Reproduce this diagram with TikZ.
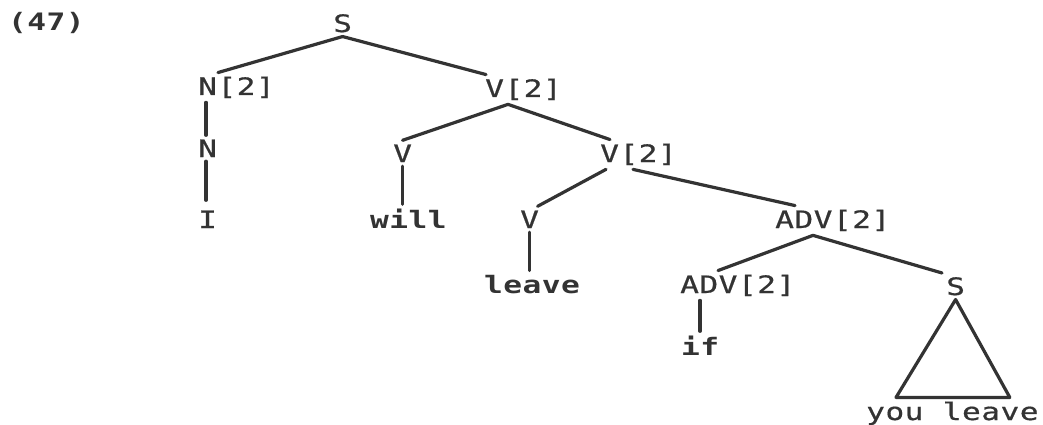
\documentclass[tikz,border=0pt]{standalone}
\usepackage{fontspec}
\usepackage{tikz}
\usetikzlibrary{positioning}
\newfontfamily\treefont[FakeStretch=1.3,LetterSpace=2,FakeBold=0.6]{DejaVu Sans Mono}
\newfontfamily\wordfont[FakeStretch=1.3,LetterSpace=2]{DejaVu Sans Mono}
\definecolor{inkgrey}{HTML}{333333}

\begin{document}
\begin{tikzpicture}[x=1pt, y=-1pt,
  cat/.style={anchor=base west, inner sep=4pt, text=inkgrey,
              font=\fontsize{24}{28}\selectfont\treefont},
  word/.style={cat, font=\fontsize{24}{28}\selectfont\wordfont\bfseries},
  branch/.style={draw=inkgrey, line width=3.2pt, line cap=round, line join=round},
]
\useasboundingbox (0,0) rectangle (1043,425);
\fill[white] (0,0) rectangle (1043,425);

%% Example number
\node[word] (ex) at (4,31) {(47)};

%% Category labels
\node[cat] (s)     at (329,32)  {S};
\node[cat] (n2)    at (194,95)  {N[2]};
\node[cat] (v2)    at (481,97)  {V[2]};
\node[cat] (n)     at (194,157) {N};
\node[cat] (v)     at (389,162) {V};
\node[cat] (v2b)   at (596,162) {V[2]};
\node[cat] (vb)    at (516,228) {V};
\node[cat] (adv2)  at (771,228) {ADV[2]};
\node[cat] (adv2b) at (676,293) {ADV[2]};
\node[cat] (sb)    at (942,295) {S};

%% Words
\node[cat]  (i)     at (194,228) {I};
\node[word] (will)  at (366,228) {will};
\node[word] (leave) at (480,293) {leave};
\node[word] (if)    at (677,355) {if};
\node[cat]  (yl)    at (862,420) {you leave};

%% Branches
\draw[branch] (s.south) -- ([xshift=24pt]n2.north west);
\draw[branch] (s.south) -- ([xshift=5pt]v2.north west);
\draw[branch] ([xshift=12pt]n2.south west) -- ([xshift=12pt]n.north west);
\draw[branch] ([xshift=12pt]n.south west) -- ([xshift=12pt,yshift=6pt]n.south west |- i.north);
\draw[branch] ([xshift=27pt]v2.south west) -- (v.north);
\draw[branch] ([xshift=27pt]v2.south west) -- ([xshift=14pt]v2b.north west);
\draw[branch] (v.south) -- (v.south |- will.north);
\draw[branch] ([xshift=10pt]v2b.south west) -- ([xshift=8pt]vb.north);
\draw[branch] ([xshift=37pt]v2b.south west) -- ([xshift=24pt]adv2.north west);
\draw[branch] (vb.south) -- (vb.south |- leave.north);
\draw[branch] ([xshift=42pt]adv2.south west) -- ([xshift=42pt]adv2b.north west);
\draw[branch] ([xshift=42pt]adv2.south west) -- (sb.north west);
\draw[branch] ([xshift=24pt]adv2b.south west) -- ([xshift=24pt]adv2b.south west |- if.north);

%% Triangle over the unanalysed clause
\draw[branch] (sb.south) -- ([xshift=34pt]yl.north west)
  -- ([xshift=-33pt]yl.north east) -- cycle;
\end{tikzpicture}
\end{document}
